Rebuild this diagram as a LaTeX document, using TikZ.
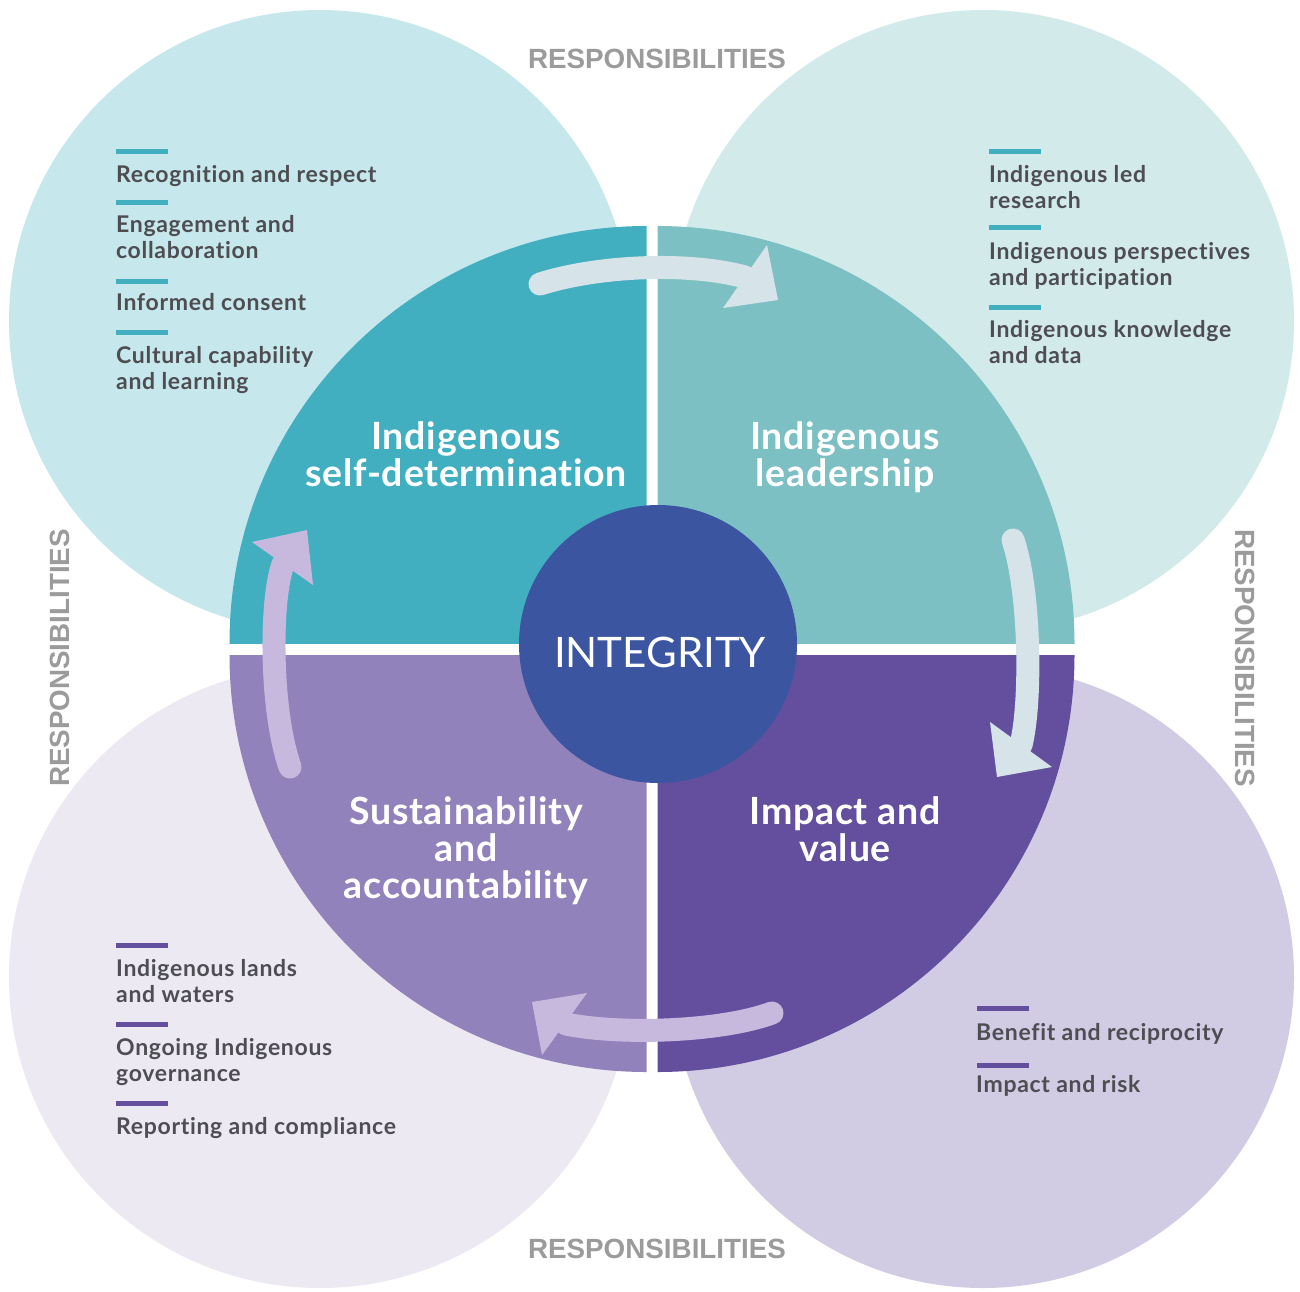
\documentclass[tikz,border=0pt]{standalone}
\usepackage{fontspec}
\setmainfont{Lato}
\newfontfamily\listfont[LetterSpace=3,Ligatures=CommonOff]{Lato}
\newfontfamily\titlefont[LetterSpace=2,Ligatures=CommonOff]{Lato}
\newfontfamily\respfont{Liberation Sans}
\definecolor{bigTL}{HTML}{C6E7EB}
\definecolor{bigTR}{HTML}{D3EAEA}
\definecolor{bigBL}{HTML}{ECE9F3}
\definecolor{bigBR}{HTML}{D1CBE3}
\definecolor{qTL}{HTML}{42AFC1}
\definecolor{qTR}{HTML}{7DC0C4}
\definecolor{qBL}{HTML}{9282BB}
\definecolor{qBR}{HTML}{634F9E}
\definecolor{centerblue}{HTML}{3C55A1}
\definecolor{arrowlight}{HTML}{D6E3E8}
\definecolor{arrowpurple}{HTML}{C7B9DE}
\definecolor{textgray}{HTML}{4D4D52}
\definecolor{respgray}{HTML}{9B9B9B}
\begin{document}
\begin{tikzpicture}[x=1pt,y=-1pt,
  listtext/.style={anchor=base west, inner sep=0pt, align=left, text=textgray,
    font=\fontsize{23}{26}\selectfont\listfont\bfseries},
  titletext/.style={anchor=base, inner sep=0pt, align=center, text=white,
    font=\fontsize{37.5}{37}\selectfont\titlefont\bfseries},
  resptext/.style={inner sep=0pt, text=respgray, font=\fontsize{27.8}{30}\selectfont\respfont\bfseries},
  cyandash/.style={draw=qTL, line width=5pt},
  purpledash/.style={draw=qBR, line width=5pt},
  shaft/.style={line width=23pt, line cap=round},
]
\useasboundingbox (0,0) rectangle (1300,1291);
% big circles
\fill[bigTL] (320,321) circle (311pt);
\fill[bigTR] (983,321) circle (311pt);
\fill[bigBL] (320,977) circle (311pt);
\fill[bigBR] (983,977) circle (311pt);
% quadrants
\begin{scope}
  \clip (0,0) rectangle (646.5,643);
  \fill[qTL] (646.5,643) circle (417pt);
\end{scope}
\begin{scope}
  \clip (657.5,0) rectangle (1300,643);
  \fill[qTR] (657.5,643) circle (417pt);
\end{scope}
\begin{scope}
  \clip (0,655) rectangle (646.5,1291);
  \fill[qBL] (646.5,655) circle (417pt);
\end{scope}
\begin{scope}
  \clip (657.5,655) rectangle (1300,1291);
  \fill[qBR] (657.5,655) circle (417pt);
\end{scope}
% centre
\node[circle, fill=centerblue, minimum size=278pt, inner sep=0pt] (integ) at (658,644) {};
\node[anchor=base, inner sep=0pt, text=white, font=\fontsize{42}{44}\selectfont] (integtext) at (660,667) {INTEGRITY};
% arrows
\coordinate (a1s) at (540,284);
\coordinate (a1e) at (745,277);
\draw[shaft, arrowlight] (a1s) .. controls (600,265) and (690,262) .. (a1e);
\fill[arrowlight] (767,245) -- (778,300) -- (723,308) -- cycle;
\coordinate (a2s) at (1013,540);
\coordinate (a2e) at (1021,745);
\draw[shaft, arrowlight] (a2s) .. controls (1030,590) and (1032,700) .. (a2e);
\fill[arrowlight] (990,722) -- (1052,767) -- (997,777) -- cycle;
\coordinate (a3s) at (772,1013);
\coordinate (a3e) at (566,1024);
\draw[shaft, arrowpurple] (a3s) .. controls (720,1032) and (620,1035) .. (a3e);
\fill[arrowpurple] (587,993) -- (542,1055) -- (532,1002) -- cycle;
\coordinate (a4s) at (290,767);
\coordinate (a4e) at (283,564);
\draw[shaft, arrowpurple] (a4s) .. controls (270,710) and (270,600) .. (a4e);
\fill[arrowpurple] (252,542) -- (313,585) -- (307,530) -- cycle;
% titles (anchor = baseline of last line)
\node[titletext] (t1) at (466,486) {Indigenous\\self-determination};
\node[titletext] (t2) at (845,486) {Indigenous\\leadership};
\node[titletext] (t3) at (466,898) {Sustainability\\and\\accountability};
\node[titletext] (t4) at (845,861) {Impact and\\value};
% responsibilities
\node[resptext] (r1) at (657,59) {RESPONSIBILITIES};
\node[resptext] (r2) at (657,1249) {RESPONSIBILITIES};
\node[resptext, rotate=90] (r3) at (60,658) {RESPONSIBILITIES};
\node[resptext, rotate=-90] (r4) at (1245,658) {RESPONSIBILITIES};
% top-left list
\draw[cyandash] (116,151) -- (168,151);
\node[listtext] (l1) at (116,182) {Recognition and respect};
\draw[cyandash] (116,202.5) -- (168,202.5);
\node[listtext] (l2) at (116,258) {Engagement and\\collaboration};
\draw[cyandash] (116,281.5) -- (168,281.5);
\node[listtext] (l3) at (116,310) {Informed consent};
\draw[cyandash] (116,332.5) -- (168,332.5);
\node[listtext] (l4) at (116,389) {Cultural capability\\and learning};
% top-right list
\draw[cyandash] (989,151) -- (1041,151);
\node[listtext] (l5) at (989,208) {Indigenous led\\research};
\draw[cyandash] (989,227) -- (1041,227);
\node[listtext] (l6) at (989,285) {Indigenous perspectives\\and participation};
\draw[cyandash] (989,307) -- (1041,307);
\node[listtext] (l7) at (989,363) {Indigenous knowledge\\and data};
% bottom-left list
\draw[purpledash] (116,945) -- (168,945);
\node[listtext] (l8) at (116,1002) {Indigenous lands\\and waters};
\draw[purpledash] (116,1024) -- (168,1024);
\node[listtext] (l9) at (116,1081) {Ongoing Indigenous\\governance};
\draw[purpledash] (116,1103) -- (168,1103);
\node[listtext] (l10) at (116,1134) {Reporting and compliance};
% bottom-right list
\draw[purpledash] (977,1008) -- (1029,1008);
\node[listtext] (l11) at (976,1040) {Benefit and reciprocity};
\draw[purpledash] (977,1065) -- (1029,1065);
\node[listtext] (l12) at (976,1092) {Impact and risk};
\end{tikzpicture}
\end{document}
